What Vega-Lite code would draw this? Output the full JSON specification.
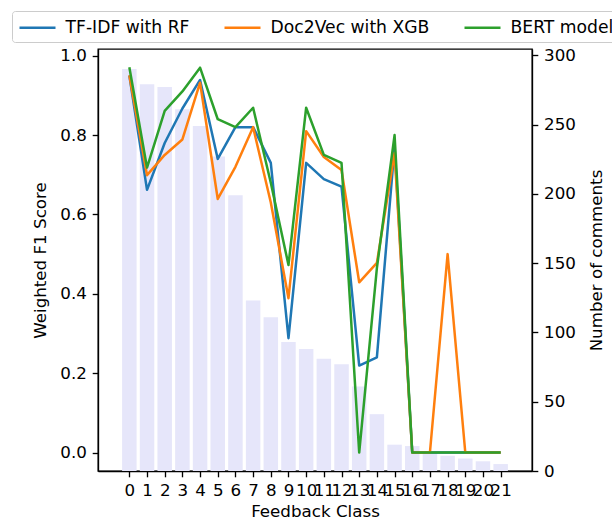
{
  "$schema": "https://vega.github.io/schema/vega-lite/v6.json",
  "width": 434,
  "height": 422,
  "autosize": {"type": "none"},
  "padding": {"left": 98, "top": 49, "right": 80, "bottom": 50},
  "config": {
    "font": "DejaVu Sans",
    "view": {"stroke": "black", "strokeWidth": 1.33},
    "axis": {
      "grid": false,
      "domainColor": "black",
      "domainWidth": 1.33,
      "tickColor": "black",
      "tickWidth": 1.33,
      "tickSize": 5.8,
      "labelPadding": 5.8,
      "labelFont": "DejaVu Sans",
      "labelFontSize": 16.7,
      "labelColor": "black",
      "titleFont": "DejaVu Sans",
      "titleFontSize": 16.7,
      "titleFontWeight": "normal",
      "titleColor": "black"
    },
    "legend": {
      "orient": "none",
      "legendX": -86,
      "legendY": -38,
      "direction": "horizontal",
      "symbolType": "M-2,0H2",
      "symbolSize": 324,
      "symbolOffset": 9,
      "symbolStrokeWidth": 2.5,
      "labelFont": "DejaVu Sans",
      "labelFontSize": 17.2,
      "labelColor": "black",
      "labelOffset": 17.5,
      "columnPadding": 29,
      "padding": 6,
      "strokeColor": "#cccccc",
      "fillColor": "white",
      "cornerRadius": 3
    }
  },
  "datasets": {
    "counts": [
      {"cls": 0, "count": 290},
      {"cls": 1, "count": 279},
      {"cls": 2, "count": 277},
      {"cls": 3, "count": 261},
      {"cls": 4, "count": 249},
      {"cls": 5, "count": 227},
      {"cls": 6, "count": 199},
      {"cls": 7, "count": 123},
      {"cls": 8, "count": 111},
      {"cls": 9, "count": 93},
      {"cls": 10, "count": 88},
      {"cls": 11, "count": 81},
      {"cls": 12, "count": 77},
      {"cls": 13, "count": 61},
      {"cls": 14, "count": 41},
      {"cls": 15, "count": 19},
      {"cls": 16, "count": 18},
      {"cls": 17, "count": 13},
      {"cls": 18, "count": 11},
      {"cls": 19, "count": 9},
      {"cls": 20, "count": 7},
      {"cls": 21, "count": 5}
    ],
    "scores": [
      {"cls": 0, "model": "TF-IDF with RF", "f1": 0.95},
      {"cls": 1, "model": "TF-IDF with RF", "f1": 0.662},
      {"cls": 2, "model": "TF-IDF with RF", "f1": 0.78},
      {"cls": 3, "model": "TF-IDF with RF", "f1": 0.867},
      {"cls": 4, "model": "TF-IDF with RF", "f1": 0.939},
      {"cls": 5, "model": "TF-IDF with RF", "f1": 0.74},
      {"cls": 6, "model": "TF-IDF with RF", "f1": 0.82},
      {"cls": 7, "model": "TF-IDF with RF", "f1": 0.82},
      {"cls": 8, "model": "TF-IDF with RF", "f1": 0.73},
      {"cls": 9, "model": "TF-IDF with RF", "f1": 0.288},
      {"cls": 10, "model": "TF-IDF with RF", "f1": 0.73},
      {"cls": 11, "model": "TF-IDF with RF", "f1": 0.689},
      {"cls": 12, "model": "TF-IDF with RF", "f1": 0.67},
      {"cls": 13, "model": "TF-IDF with RF", "f1": 0.219},
      {"cls": 14, "model": "TF-IDF with RF", "f1": 0.24},
      {"cls": 15, "model": "TF-IDF with RF", "f1": 0.77},
      {"cls": 16, "model": "TF-IDF with RF", "f1": 0.0},
      {"cls": 17, "model": "TF-IDF with RF", "f1": 0.0},
      {"cls": 18, "model": "TF-IDF with RF", "f1": 0.0},
      {"cls": 19, "model": "TF-IDF with RF", "f1": 0.0},
      {"cls": 20, "model": "TF-IDF with RF", "f1": 0.0},
      {"cls": 21, "model": "TF-IDF with RF", "f1": 0.0},
      {"cls": 0, "model": "Doc2Vec with XGB", "f1": 0.951},
      {"cls": 1, "model": "Doc2Vec with XGB", "f1": 0.699},
      {"cls": 2, "model": "Doc2Vec with XGB", "f1": 0.75},
      {"cls": 3, "model": "Doc2Vec with XGB", "f1": 0.789},
      {"cls": 4, "model": "Doc2Vec with XGB", "f1": 0.932},
      {"cls": 5, "model": "Doc2Vec with XGB", "f1": 0.639},
      {"cls": 6, "model": "Doc2Vec with XGB", "f1": 0.72},
      {"cls": 7, "model": "Doc2Vec with XGB", "f1": 0.82},
      {"cls": 8, "model": "Doc2Vec with XGB", "f1": 0.63},
      {"cls": 9, "model": "Doc2Vec with XGB", "f1": 0.389},
      {"cls": 10, "model": "Doc2Vec with XGB", "f1": 0.81},
      {"cls": 11, "model": "Doc2Vec with XGB", "f1": 0.745},
      {"cls": 12, "model": "Doc2Vec with XGB", "f1": 0.712},
      {"cls": 13, "model": "Doc2Vec with XGB", "f1": 0.429},
      {"cls": 14, "model": "Doc2Vec with XGB", "f1": 0.478},
      {"cls": 15, "model": "Doc2Vec with XGB", "f1": 0.755},
      {"cls": 16, "model": "Doc2Vec with XGB", "f1": 0.0},
      {"cls": 17, "model": "Doc2Vec with XGB", "f1": 0.0},
      {"cls": 18, "model": "Doc2Vec with XGB", "f1": 0.5},
      {"cls": 19, "model": "Doc2Vec with XGB", "f1": 0.0},
      {"cls": 20, "model": "Doc2Vec with XGB", "f1": 0.0},
      {"cls": 21, "model": "Doc2Vec with XGB", "f1": 0.0},
      {"cls": 0, "model": "BERT model", "f1": 0.971},
      {"cls": 1, "model": "BERT model", "f1": 0.718},
      {"cls": 2, "model": "BERT model", "f1": 0.861},
      {"cls": 3, "model": "BERT model", "f1": 0.91},
      {"cls": 4, "model": "BERT model", "f1": 0.97},
      {"cls": 5, "model": "BERT model", "f1": 0.84},
      {"cls": 6, "model": "BERT model", "f1": 0.82},
      {"cls": 7, "model": "BERT model", "f1": 0.869},
      {"cls": 8, "model": "BERT model", "f1": 0.68},
      {"cls": 9, "model": "BERT model", "f1": 0.4725},
      {"cls": 10, "model": "BERT model", "f1": 0.869},
      {"cls": 11, "model": "BERT model", "f1": 0.75},
      {"cls": 12, "model": "BERT model", "f1": 0.73},
      {"cls": 13, "model": "BERT model", "f1": 0.0},
      {"cls": 14, "model": "BERT model", "f1": 0.465},
      {"cls": 15, "model": "BERT model", "f1": 0.8},
      {"cls": 16, "model": "BERT model", "f1": 0.0},
      {"cls": 17, "model": "BERT model", "f1": 0.0},
      {"cls": 18, "model": "BERT model", "f1": 0.0},
      {"cls": 19, "model": "BERT model", "f1": 0.0},
      {"cls": 20, "model": "BERT model", "f1": 0.0},
      {"cls": 21, "model": "BERT model", "f1": 0.0}
    ]
  },
  "layer": [
    {
      "data": {"name": "counts"},
      "mark": {"type": "bar", "size": 14.5, "color": "#e6e6fa"},
      "encoding": {
        "x": {
          "field": "cls",
          "type": "quantitative",
          "scale": {"domain": [-1.49, 22.49], "nice": false, "zero": false},
          "axis": {
            "title": "Feedback Class",
            "values": [0, 1, 2, 3, 4, 5, 6, 7, 8, 9, 10, 11, 12, 13, 14, 15, 16, 17, 18, 19, 20, 21],
            "format": "d",
            "labelOverlap": false,
            "labelFlush": false,
            "labelBound": false,
            "titlePadding": 4
          }
        },
        "y": {
          "field": "count",
          "type": "quantitative",
          "scale": {"domain": [0, 304.5], "nice": false},
          "axis": {
            "orient": "right",
            "title": "Number of comments",
            "values": [0, 50, 100, 150, 200, 250, 300],
            "format": "d",
            "titleAngle": 270,
            "titleBaseline": "top",
            "titlePadding": 13
          }
        }
      }
    },
    {
      "data": {"name": "scores"},
      "mark": {"type": "line", "strokeWidth": 2.5, "strokeJoin": "round"},
      "encoding": {
        "x": {
          "field": "cls",
          "type": "quantitative",
          "scale": {"domain": [-1.49, 22.49], "nice": false, "zero": false},
          "axis": {
            "title": "Feedback Class",
            "values": [0, 1, 2, 3, 4, 5, 6, 7, 8, 9, 10, 11, 12, 13, 14, 15, 16, 17, 18, 19, 20, 21],
            "format": "d",
            "labelOverlap": false,
            "labelFlush": false,
            "labelBound": false,
            "titlePadding": 4
          }
        },
        "y": {
          "field": "f1",
          "type": "quantitative",
          "scale": {"domain": [-0.0466, 1.017], "nice": false, "zero": false},
          "axis": {
            "orient": "left",
            "title": "Weighted F1 Score",
            "values": [0, 0.2, 0.4, 0.6, 0.8, 1.0],
            "format": ".1f",
            "titlePadding": 10
          }
        },
        "color": {
          "field": "model",
          "type": "nominal",
          "sort": ["TF-IDF with RF", "Doc2Vec with XGB", "BERT model"],
          "scale": {
            "domain": ["TF-IDF with RF", "Doc2Vec with XGB", "BERT model"],
            "range": ["#1f77b4", "#ff7f0e", "#2ca02c"]
          },
          "legend": {"title": null}
        }
      }
    }
  ],
  "resolve": {"scale": {"y": "independent"}}
}
